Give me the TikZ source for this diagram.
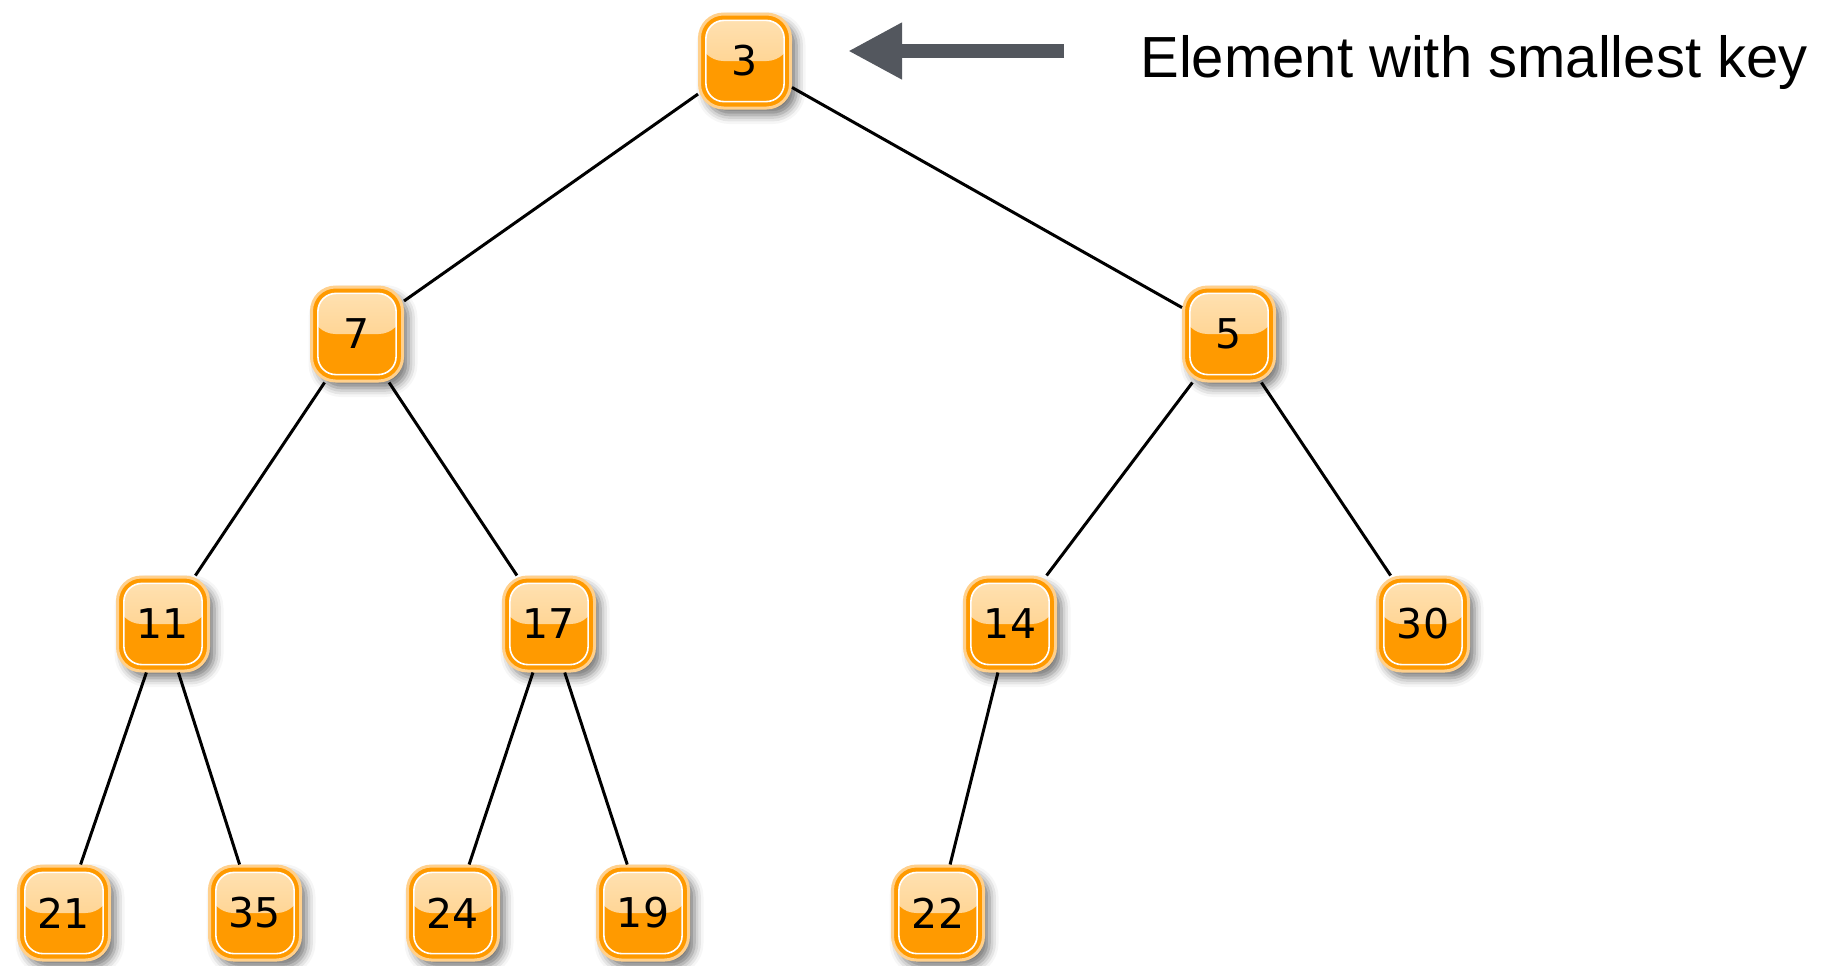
\documentclass[tikz,border=0pt]{standalone}
\usepackage{fontspec}
\setmainfont{DejaVu Sans}
\newfontfamily\labelfont{Liberation Sans}
\usetikzlibrary{shadows.blur,arrows.meta}

\definecolor{keyorange}{HTML}{FF9A00}
\definecolor{keyrim}{HTML}{FFD08C}
\definecolor{keytop}{HTML}{FFE2B4}
\definecolor{keymid}{HTML}{FFC978}
\definecolor{pointergray}{HTML}{53575E}

\tikzset{
  key/.style={rectangle, rounded corners=12pt, minimum width=45.5pt, minimum height=47pt,
    inner sep=0pt, draw=keyrim, line width=1.5pt, fill=keyorange,
    font=\fontsize{20.5}{24}\selectfont,
    blur shadow={shadow xshift=3pt, shadow yshift=-3.5pt, shadow blur radius=4.5pt, shadow opacity=55},
    path picture={
      \fill[top color=keytop, bottom color=keymid] (path picture bounding box.north west) rectangle (path picture bounding box.east);
      \draw[keyorange, line width=6pt, rounded corners=12pt] (path picture bounding box.south west) rectangle (path picture bounding box.north east);
      \draw[white, line width=0.8pt, rounded corners=9pt] ([shift={(3.2pt,3.2pt)}]path picture bounding box.south west) rectangle ([shift={(-3.2pt,-3.2pt)}]path picture bounding box.north east);
    }},
  link/.style={line width=1.5pt},
  pointer/.style={pointergray, line width=6.8pt, -{Triangle[length=27pt,width=26.5pt]}},
}

\begin{document}
\begin{tikzpicture}[x=0.5pt,y=-0.5pt]
  \useasboundingbox (0,0) rectangle (1829,965);

  % the heap, level by level
  \node[key] (n3) at (745,61) {3};

  \node[key] (n7) at (357,334) {7};
  \node[key] (n5) at (1229,334) {5};

  \node[key] (n11) at (163,624) {11};
  \node[key] (n17) at (549,624) {17};
  \node[key] (n14) at (1010,624) {14};
  \node[key] (n30) at (1423,624) {30};

  \node[key] (n21) at (64,913) {21};
  \node[key] (n35) at (255,913) {35};
  \node[key] (n24) at (453,913) {24};
  \node[key] (n19) at (643,913) {19};
  \node[key] (n22) at (938,913) {22};

  \foreach \a/\b in {n3/n7, n3/n5, n7/n11, n7/n17, n5/n14, n5/n30,
                     n11/n21, n11/n35, n17/n24, n17/n19, n14/n22}
    \draw[link] (\a) -- (\b);

  % pointer to the root
  \node[anchor=base west, inner sep=0pt, font=\labelfont\fontsize{29}{34}\selectfont] (lbl) at (1140,77) {Element with smallest key};
  \coordinate (ptail) at (1064,51);
  \draw[pointer, shorten >=28pt] (ptail) -- (ptail -| n3.east);
\end{tikzpicture}
\end{document}
